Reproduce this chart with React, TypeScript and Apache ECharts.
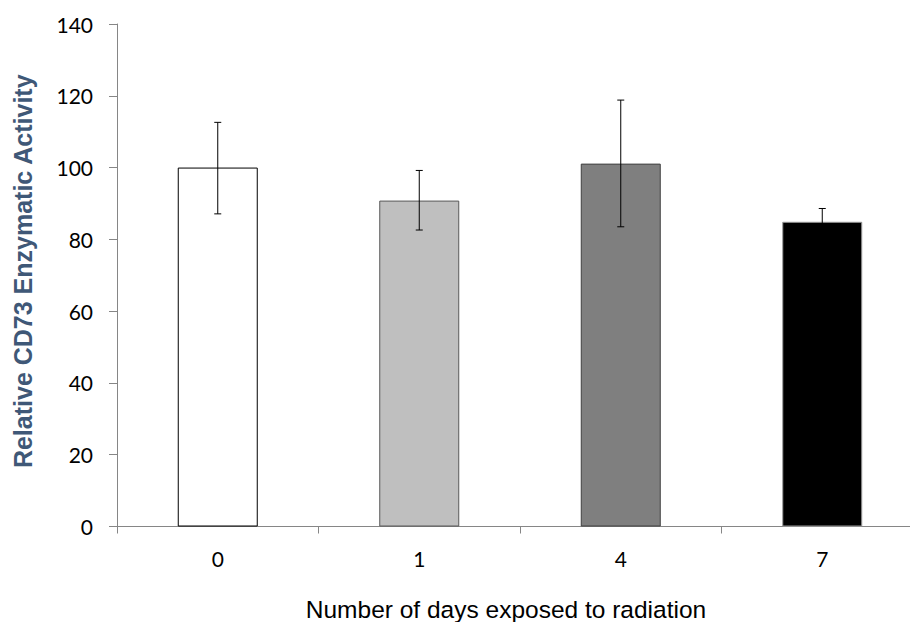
import React, { useEffect, useRef } from "react";
import * as echarts from "echarts";

const categories = ["0", "1", "4", "7"];
const means = [100, 90.8, 101.1, 84.9];
const errLow = [87.1, 82.6, 83.5, 81.2];
const errHigh = [112.6, 99.2, 118.8, 88.6];
const barColors = ["#ffffff", "#bfbfbf", "#7f7f7f", "#000000"];
const barBorders = ["#000000", "#595959", "#404040", "#9a9a9a"];
const yMin = 0;
const yMax = 140;
const yStep = 20;
const yTitle = "Relative CD73 Enzymatic Activity";
const xTitle = "Number of days exposed to radiation";

export default function App() {
  const ref = useRef<HTMLDivElement>(null);
  useEffect(() => {
    if (!ref.current) return;
    const chart = echarts.init(ref.current, null, { renderer: "svg" });
    const axisLineColor = "#868686";
    chart.setOption({
      animation: false,
      backgroundColor: "#ffffff",
      grid: { left: 117, top: 24, width: 806, height: 502.5, outerBoundsMode: "none", containLabel: false },
      xAxis: {
        type: "category",
        data: categories,
        boundaryGap: true,
        name: xTitle,
        nameLocation: "middle",
        nameGap: 70,
        nameTextStyle: {
          fontFamily: "Liberation Sans, Arial, sans-serif",
          fontSize: 24.5,
          color: "#000000",
          padding: [0, 28, 0, 0],
        },
        axisLine: { lineStyle: { color: axisLineColor, width: 1 } },
        axisTick: { show: true, length: 7, alignWithLabel: false, lineStyle: { color: axisLineColor } },
        axisLabel: {
          margin: 21,
          fontFamily: "Lato, sans-serif",
          fontSize: 21,
          color: "#000000",
        },
        splitLine: { show: false },
      },
      yAxis: {
        type: "value",
        min: yMin,
        max: yMax,
        interval: yStep,
        name: yTitle,
        nameLocation: "middle",
        nameGap: 82,
        nameRotate: 90,
        nameTextStyle: {
          fontFamily: "Liberation Sans, Arial, sans-serif",
          fontSize: 25,
          fontWeight: "bold",
          color: "#3f5877",
          padding: [0, 0, 0, 8],
        },
        axisLine: { show: true, lineStyle: { color: axisLineColor, width: 1 } },
        axisTick: { show: true, length: 8, lineStyle: { color: axisLineColor } },
        axisLabel: {
          margin: 24,
          fontFamily: "Lato, sans-serif",
          fontSize: 21,
          color: "#000000",
        },
        splitLine: { show: false },
      },
      series: [
        {
          type: "bar",
          barWidth: 80,
          data: means.map((v, i) => ({
            value: v,
            itemStyle: { color: barColors[i], borderColor: barBorders[i], borderWidth: 1 },
          })),
        },
        {
          type: "custom",
          z: 10,
          data: categories.map((_, i) => [i, errLow[i], errHigh[i]]),
          renderItem: (params: any, api: any) => {
            const x = api.value(0);
            const lo = api.value(1);
            const hi = api.value(2);
            const pHi = api.coord([x, hi]);
            const pLo = api.coord([x, lo]);
            const w = 3.5;
            const style = { stroke: "#000000", lineWidth: 1 };
            return {
              type: "group",
              children: [
                { type: "line", shape: { x1: pHi[0], y1: pHi[1], x2: pLo[0], y2: pLo[1] }, style },
                { type: "line", shape: { x1: pHi[0] - w, y1: pHi[1], x2: pHi[0] + w, y2: pHi[1] }, style },
                { type: "line", shape: { x1: pLo[0] - w, y1: pLo[1], x2: pLo[0] + w, y2: pLo[1] }, style },
              ],
            };
          },
        },
      ],
    });
    return () => chart.dispose();
  }, []);
  return (
    <div
      ref={ref}
      style={{ position: "fixed", left: 0, top: 0, width: 910, height: 622, background: "#fff" }}
    />
  );
}
